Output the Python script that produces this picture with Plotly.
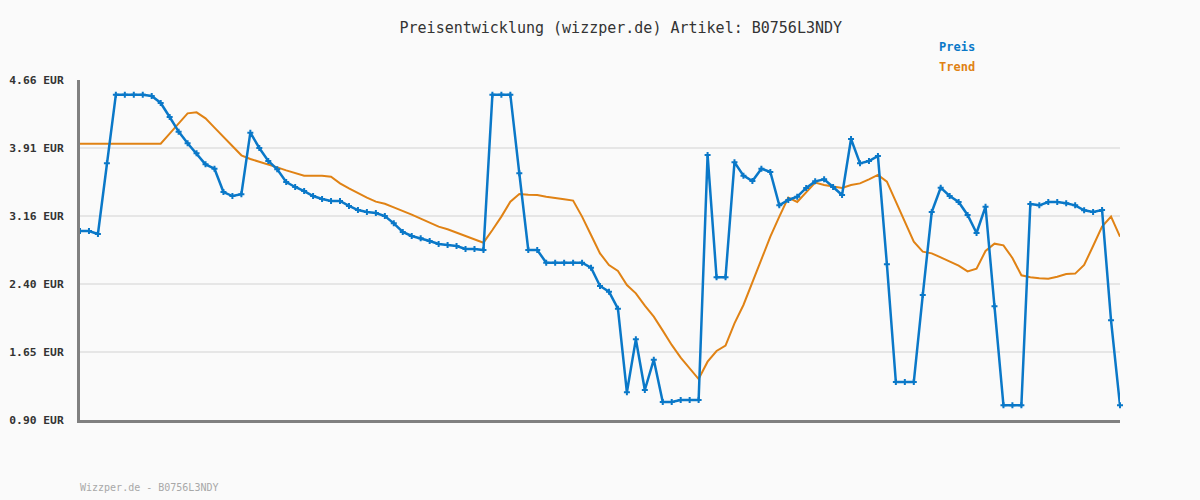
import plotly.graph_objects as go

preis = [2.99, 2.99, 2.957, 3.738, 4.498, 4.498, 4.498, 4.498, 4.483, 4.406,
         4.251, 4.089, 3.960, 3.849, 3.727, 3.679, 3.421, 3.377, 3.396, 4.078,
         3.908, 3.764, 3.672, 3.532, 3.477, 3.432, 3.377, 3.344, 3.322, 3.322,
         3.267, 3.222, 3.200, 3.189, 3.156, 3.075, 2.979, 2.935, 2.909, 2.880,
         2.846, 2.835, 2.824, 2.791, 2.791, 2.780, 4.498, 4.498, 4.498, 3.628,
         2.780, 2.780, 2.640, 2.640, 2.640, 2.640, 2.640, 2.585, 2.382, 2.319,
         2.131, 1.206, 1.792, 1.232, 1.567, 1.099, 1.099, 1.121, 1.121, 1.121,
         3.831, 2.478, 2.478, 3.750, 3.602, 3.543, 3.679, 3.643, 3.274, 3.333,
         3.370, 3.466, 3.539, 3.562, 3.477, 3.388, 4.008, 3.738, 3.764, 3.820,
         2.622, 1.320, 1.320, 1.320, 2.282, 3.200, 3.469, 3.377, 3.311, 3.167,
         2.968, 3.259, 2.157, 1.062, 1.062, 1.062, 3.289, 3.274, 3.311, 3.311,
         3.296, 3.274, 3.219, 3.200, 3.222, 2.002, 1.062]

trend = [3.956, 3.956, 3.956, 3.956, 3.956, 3.956, 3.956, 3.956, 3.956, 3.956,
         4.067, 4.181, 4.291, 4.302, 4.236, 4.133, 4.033, 3.930, 3.827, 3.786,
         3.757, 3.724, 3.694, 3.661, 3.631, 3.602, 3.602, 3.602, 3.591, 3.517,
         3.462, 3.407, 3.359, 3.315, 3.292, 3.252, 3.215, 3.171, 3.127, 3.082,
         3.038, 3.009, 2.972, 2.927, 2.891, 2.861, 3.001, 3.149, 3.315, 3.399,
         3.392, 3.388, 3.370, 3.359, 3.340, 3.326, 3.149, 2.946, 2.743, 2.614,
         2.548, 2.393, 2.301, 2.164, 2.043, 1.888, 1.730, 1.589, 1.468, 1.353,
         1.545, 1.663, 1.722, 1.969, 2.172, 2.419, 2.677, 2.927, 3.149, 3.359,
         3.311, 3.418, 3.525, 3.499, 3.484, 3.466, 3.499, 3.517, 3.562, 3.610,
         3.536, 3.315, 3.093, 2.872, 2.762, 2.743, 2.699, 2.655, 2.607, 2.544,
         2.574, 2.769, 2.850, 2.832, 2.692, 2.500, 2.478, 2.467, 2.463, 2.485,
         2.515, 2.519, 2.614, 2.824, 3.038, 3.149, 2.927]

x = list(range(len(preis)))

y_ticks = [0.90, 1.65, 2.40, 3.16, 3.91, 4.66]
y_tick_labels = ["0.90 EUR", "1.65 EUR", "2.40 EUR", "3.16 EUR", "3.91 EUR", "4.66 EUR"]

title_text = "Preisentwicklung (wizzper.de) Artikel: B0756L3NDY"
footer_text = "Wizzper.de - B0756L3NDY"

BLUE = "#0a78c8"
ORANGE = "#e08214"
MONO = "DejaVu Sans Mono"

fig = go.Figure()
fig.add_trace(go.Scatter(
    x=x, y=trend, mode="lines", name="Trend",
    line=dict(color=ORANGE, width=2), cliponaxis=False,
))
fig.add_trace(go.Scatter(
    x=x, y=preis, mode="lines+markers", name="Preis",
    line=dict(color=BLUE, width=2.5),
    marker=dict(symbol="cross", size=5, color=BLUE),
    cliponaxis=False,
))

fig.update_layout(
    width=1200, height=500,
    paper_bgcolor="#fafafa", plot_bgcolor="#fafafa",
    margin=dict(l=80, r=80, t=80, b=80, autoexpand=False),
    showlegend=False,
    title=dict(text=title_text, x=0.52, xref="paper", xanchor="center",
               y=1 - 28 / 500, yref="container", yanchor="middle",
               automargin=False,
               font=dict(family=MONO, size=15, color="#333333")),
    xaxis=dict(range=[0, len(preis) - 1], showgrid=False, zeroline=False,
               showticklabels=False, ticks="", showline=True, automargin=False,
               linecolor="#808080", linewidth=3),
    yaxis=dict(range=[0.90, 4.66], tickvals=y_ticks, ticktext=y_tick_labels,
               showgrid=True, gridcolor="#e6e6e6", gridwidth=2, zeroline=False,
               showline=True, linecolor="#808080", linewidth=3, ticks="",
               ticklabelstandoff=11, automargin=False,
               tickfont=dict(family=MONO, size=11.3, color="#333333", weight="bold")),
)

fig.add_annotation(text="<b>Preis</b>", x=(937 - 80) / 1040, y=(420 - 47) / 340,
                   xref="paper", yref="paper", xanchor="left", yanchor="middle",
                   showarrow=False, font=dict(family=MONO, size=12, color=BLUE))
fig.add_annotation(text="<b>Trend</b>", x=(937 - 80) / 1040, y=(420 - 67) / 340,
                   xref="paper", yref="paper", xanchor="left", yanchor="middle",
                   showarrow=False, font=dict(family=MONO, size=12, color=ORANGE))
fig.add_annotation(text=footer_text, x=-0.002, y=(420 - 487) / 340,
                   xref="paper", yref="paper", xanchor="left", yanchor="middle",
                   showarrow=False, font=dict(family=MONO, size=10, color="#a8a8a8"))

fig.write_html("out.html", config={"displayModeBar": False},
               post_script="document.body.style.margin='0';document.body.style.background='#fafafa';")
